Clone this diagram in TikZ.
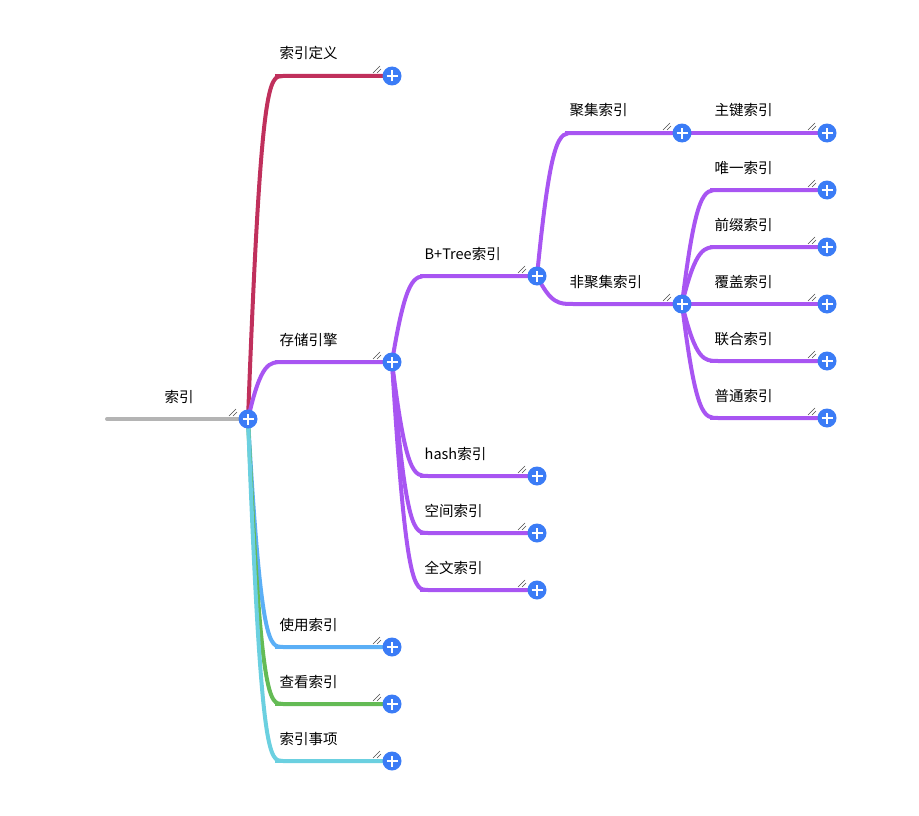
\documentclass[tikz,border=0pt]{standalone}
\usepackage{fontspec}
\setmainfont{Noto Sans CJK SC}
\usetikzlibrary{calc}
\definecolor{plusblue}{HTML}{3B7CF6}
\definecolor{rootgray}{HTML}{B4B4B4}
\definecolor{defred}{HTML}{C0305C}
\definecolor{engpurple}{HTML}{A855F2}
\definecolor{useblue}{HTML}{5BAFF6}
\definecolor{lookgreen}{HTML}{64BB55}
\definecolor{notecyan}{HTML}{6BD0E0}
\pgfdeclarelayer{links}
\pgfsetlayers{links,main}
\tikzset{
  branch/.style={line width=4pt},
  plusdot/.style={circle, fill=plusblue, minimum size=19pt, inner sep=0pt},
  topictext/.style={anchor=base west, inner sep=0pt, text=black, font=\fontsize{14.5}{16}\selectfont},
}
% plus button with the little resize mark left of it
\def\plusbtn(#1)(#2,#3){%
  \draw[black!70, line width=0.5pt] (#2-19,#3-3) -- (#2-12,#3-10) (#2-15,#3-3) -- (#2-11,#3-7);
  \node[plusdot] (#1) at (#2,#3) {};
  \draw[white, line width=2.4pt] ([xshift=-5.5pt]#1.center) -- ([xshift=5.5pt]#1.center)
    ([yshift=-5.5pt]#1.center) -- ([yshift=5.5pt]#1.center);
}
% one topic: line, text above it, plus button at its end
\def\topic(#1)(#2,#3)#4#5{%
  \coordinate (#1-in) at (#2,#3);
  \draw[branch, #4] (#1-in) -- (#2+117,#3);
  \node[topictext] (#1-txt) at (#2+4.5,#3-17) {#5};
  \plusbtn(#1)(#2+117,#3)
}
% curved link from a plus button into a child topic
\def\link(#1)(#2)#3{%
  \draw[branch, #3] (#1.center) .. controls ([xshift=-14pt]#2-in) and ([xshift=-6pt]#2-in) .. ([xshift=8pt]#2-in) -- (#2.center);
}

\begin{document}
\begin{tikzpicture}[x=1pt, y=-1pt]
  \useasboundingbox (0,0) rectangle (919,816);
  %%%%% ROOT %%%%%
  \coordinate (root-in) at (107,419);
  \draw[branch, rootgray, line cap=round] (root-in) -- (248,419);
  \node[topictext, anchor=base] (root-txt) at (179,402) {索引};
  \plusbtn(root)(248,419)

  %%%%% TOPICS %%%%%
  \topic(dingyi)(275,76){defred}{索引定义}
  \topic(engine)(275,362){engpurple}{存储引擎}
  \topic(use)(275,647){useblue}{使用索引}
  \topic(look)(275,704){lookgreen}{查看索引}
  \topic(note)(275,761){notecyan}{索引事项}

  \topic(btree)(420,276){engpurple}{B+Tree索引}
  \topic(hash)(420,476){engpurple}{hash索引}
  \topic(spatial)(420,533){engpurple}{空间索引}
  \topic(fulltext)(420,590){engpurple}{全文索引}

  \topic(cluster)(565,133){engpurple}{聚集索引}
  \topic(noncluster)(565,304){engpurple}{非聚集索引}

  \topic(pk)(710,133){engpurple}{主键索引}
  \topic(uniq)(710,190){engpurple}{唯一索引}
  \topic(prefix)(710,247){engpurple}{前缀索引}
  \topic(cover)(710,304){engpurple}{覆盖索引}
  \topic(combo)(710,361){engpurple}{联合索引}
  \topic(plain)(710,418){engpurple}{普通索引}

  %%%%% LINKS %%%%%
  \begin{pgfonlayer}{links}
    \link(root)(dingyi){defred}
    \link(root)(engine){engpurple}
    \link(root)(use){useblue}
    \link(root)(look){lookgreen}
    \link(root)(note){notecyan}
    \link(engine)(btree){engpurple}
    \link(engine)(hash){engpurple}
    \link(engine)(spatial){engpurple}
    \link(engine)(fulltext){engpurple}
    \link(btree)(cluster){engpurple}
    \link(btree)(noncluster){engpurple}
    \link(cluster)(pk){engpurple}
    \foreach \kid in {uniq,prefix,cover,combo,plain}
      {\link(noncluster)(\kid){engpurple}}
  \end{pgfonlayer}
\end{tikzpicture}
\end{document}
